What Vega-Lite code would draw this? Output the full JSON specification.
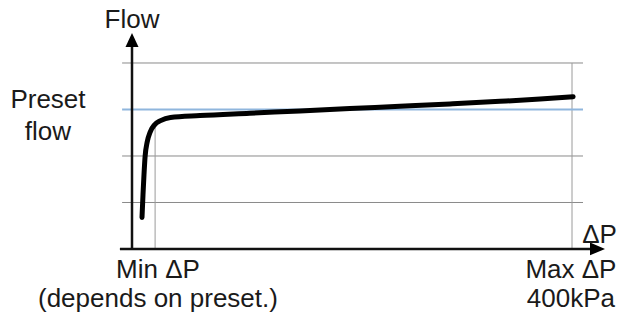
{
  "$schema": "https://vega.github.io/schema/vega-lite/v6.json",
  "autosize": {"type": "fit", "contains": "padding"},
  "width": 617,
  "height": 316,
  "padding": 0,
  "background": "white",
  "config": {"view": {"stroke": null}},
  "datasets": {
    "grid": [
      {"x": -9, "x2": 410, "y": 1},
      {"x": -9, "x2": 410, "y": 2},
      {"x": -9, "x2": 410, "y": 4}
    ],
    "preset": [{"x": -9, "x2": 410, "y": 3}],
    "vlines": [
      {"x": 21, "y": 0, "y2": 2.68},
      {"x": 400, "y": 0, "y2": 4}
    ],
    "axes": [
      {"x": 0, "x2": 0, "y": 0, "y2": 4.45},
      {"x": -11, "x2": 418, "y": 0, "y2": 0}
    ],
    "curve": [
      {"x": 9.1, "y": 0.68},
      {"x": 10.0, "y": 1.17},
      {"x": 10.9, "y": 1.6},
      {"x": 11.9, "y": 1.99},
      {"x": 13.8, "y": 2.3},
      {"x": 16.6, "y": 2.52},
      {"x": 20.5, "y": 2.67},
      {"x": 26, "y": 2.76},
      {"x": 35, "y": 2.83},
      {"x": 61.8, "y": 2.87},
      {"x": 107, "y": 2.92},
      {"x": 152.7, "y": 2.97},
      {"x": 198, "y": 3.02},
      {"x": 243.6, "y": 3.07},
      {"x": 289, "y": 3.12},
      {"x": 334.5, "y": 3.175},
      {"x": 371, "y": 3.225},
      {"x": 401, "y": 3.275}
    ],
    "arrowUp": [{"x": 0, "y": 4.495}],
    "arrowRight": [{"x": 423.2, "y": 0}],
    "labels": [
      {"label": "Flow", "x": 0, "y": 4.75},
      {"label": "Preset", "x": -76.4, "y": 3.03},
      {"label": "flow", "x": -76.4, "y": 2.34},
      {"label": "Min ΔP", "x": 23.6, "y": -0.62},
      {"label": "(depends on preset.)", "x": 23.6, "y": -1.25},
      {"label": "ΔP", "x": 425, "y": 0.13},
      {"label": "Max ΔP", "x": 399, "y": -0.62},
      {"label": "400kPa", "x": 399, "y": -1.25}
    ]
  },
  "encoding": {
    "x": {"field": "x", "type": "quantitative", "axis": null, "scale": {"domain": [-120, 440.9], "nice": false, "zero": false}},
    "y": {"field": "y", "type": "quantitative", "axis": null, "scale": {"domain": [-1.4409, 5.3548], "nice": false, "zero": false}}
  },
  "layer": [
    {
      "data": {"name": "grid"},
      "mark": {"type": "rule", "color": "#8a8a8a", "strokeWidth": 1},
      "encoding": {"x2": {"field": "x2"}}
    },
    {
      "data": {"name": "vlines"},
      "mark": {"type": "rule", "color": "#9a9a9a", "strokeWidth": 1},
      "encoding": {"y2": {"field": "y2"}}
    },
    {
      "data": {"name": "preset"},
      "mark": {"type": "rule", "color": "#8fb6dd", "strokeWidth": 2},
      "encoding": {"x2": {"field": "x2"}}
    },
    {
      "data": {"name": "axes"},
      "mark": {"type": "rule", "color": "#111111", "strokeWidth": 2.5},
      "encoding": {"x2": {"field": "x2"}, "y2": {"field": "y2"}}
    },
    {
      "data": {"name": "curve"},
      "mark": {"type": "line", "color": "#000000", "strokeWidth": 5, "interpolate": "monotone", "strokeCap": "round"},
      "encoding": {}
    },
    {
      "data": {"name": "arrowUp"},
      "mark": {"type": "point", "shape": "M0,-1L-0.93,1L0.93,1Z", "filled": true, "color": "#000000", "size": 196, "opacity": 1}
    },
    {
      "data": {"name": "arrowRight"},
      "mark": {"type": "point", "shape": "M1,0L-1,-0.85L-1,0.85Z", "filled": true, "color": "#000000", "size": 225, "opacity": 1}
    },
    {
      "data": {"name": "labels"},
      "mark": {"type": "text", "font": "Liberation Sans", "fontSize": 26, "color": "#1a1a1a", "align": "center", "baseline": "alphabetic"},
      "encoding": {"text": {"field": "label", "type": "nominal"}}
    }
  ]
}
